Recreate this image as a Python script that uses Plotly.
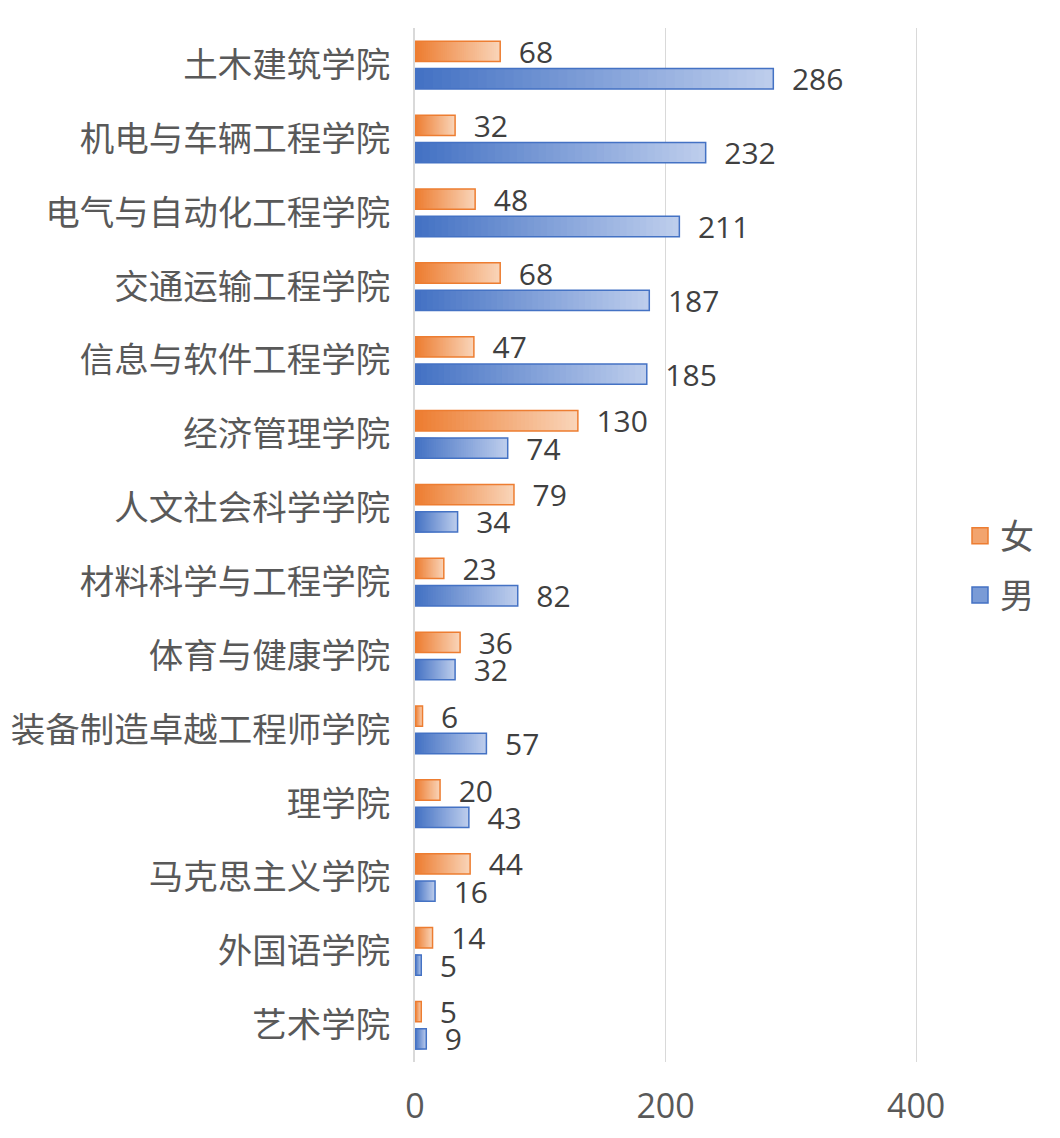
import plotly.graph_objects as go

colleges = ["土木建筑学院", "机电与车辆工程学院", "电气与自动化工程学院", "交通运输工程学院",
            "信息与软件工程学院", "经济管理学院", "人文社会科学学院", "材料科学与工程学院",
            "体育与健康学院", "装备制造卓越工程师学院", "理学院", "马克思主义学院",
            "外国语学院", "艺术学院"]
female = [68, 32, 48, 68, 47, 130, 79, 23, 36, 6, 20, 44, 14, 5]
male = [286, 232, 211, 187, 185, 74, 34, 82, 32, 57, 43, 16, 5, 9]

FONT = "Open Sans, Noto Sans CJK SC, sans-serif"
K = 40  # layers used to fake the left-to-right gradient
W = 0.275


def hex2rgb(h):
    h = h.lstrip("#")
    return [int(h[i:i + 2], 16) for i in (0, 2, 4)]


def mix(c1, c2, t):
    a, b = hex2rgb(c1), hex2rgb(c2)
    return "rgb(%d,%d,%d)" % tuple(round(a[i] + (b[i] - a[i]) * t) for i in range(3))


series = [
    dict(name="女", vals=female, dark="#ED7D31", light="#F9D4B8", off=-0.32),
    dict(name="男", vals=male, dark="#4472C4", light="#BDCDEC", off=0.05),
]

fig = go.Figure()

# legend entries (square markers, bigger than the bar swatch)
for s in series:
    fig.add_trace(go.Scatter(
        x=[None], y=[None], mode="markers", name=s["name"],
        marker=dict(symbol="square", size=16, color=mix(s["dark"], s["light"], 0.45),
                    line=dict(color=s["dark"], width=1.5)),
        legendgroup=s["name"], hoverinfo="skip"))

for s in series:
    for k in range(K):
        fig.add_trace(go.Bar(
            x=[v * (1 - k / K) for v in s["vals"]], y=colleges, orientation="h",
            width=W, offset=s["off"],
            marker=dict(color=mix(s["light"], s["dark"], k / (K - 1)), line=dict(width=0)),
            showlegend=False, hoverinfo="skip"))
    # outline + labels
    fig.add_trace(go.Bar(
        x=s["vals"], y=colleges, orientation="h", name=s["name"],
        width=W, offset=s["off"],
        marker=dict(color="rgba(0,0,0,0)", line=dict(color=s["dark"], width=1.5)),
        text=s["vals"], texttemplate="\u00a0\u00a0%{x}", textposition="outside",
        constraintext="none", cliponaxis=False,
        textfont=dict(size=30, color="#404040", family=FONT),
        showlegend=False))

fig.update_layout(
    width=1060, height=1138,
    barmode="overlay",
    plot_bgcolor="white", paper_bgcolor="white",
    font=dict(family=FONT, color="#595959"),
    margin=dict(l=407, r=108, t=20, b=84),
    showlegend=True,
    legend=dict(x=1.0, xanchor="left", y=0.48, yanchor="middle",
                font=dict(size=34, color="#595959"), tracegroupgap=12,
                bgcolor="rgba(0,0,0,0)"),
    xaxis=dict(range=[0, 435], tickvals=[0, 200, 400], showgrid=True, gridcolor="#D9D9D9",
               gridwidth=1.3, zeroline=False, showline=False, automargin=False,
               ticks="outside", ticklen=14, tickcolor="rgba(0,0,0,0)",
               tickfont=dict(size=34, color="#595959")),
    yaxis=dict(type="category", categoryorder="array", categoryarray=colleges,
               autorange="reversed", showline=True, linecolor="#D9D9D9", linewidth=1.5,
               showgrid=False, automargin=False, ticks="outside", ticklen=16,
               tickcolor="rgba(0,0,0,0)",
               tickfont=dict(size=34.5, color="#595959")),
)

fig.write_html("out.html")
